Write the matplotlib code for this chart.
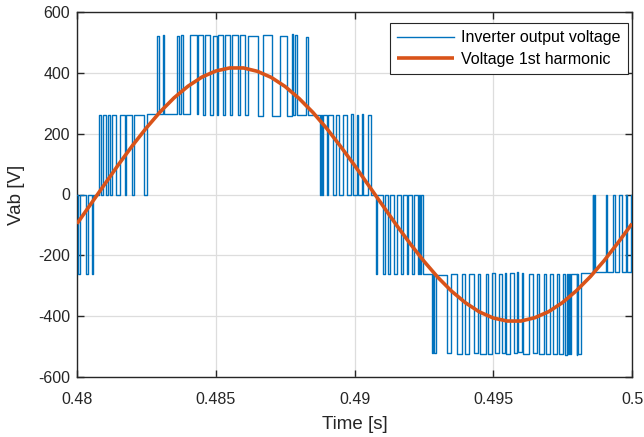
import matplotlib
matplotlib.use("Agg")
import matplotlib.pyplot as plt

# ---- Data ----
# Inverter output voltage: switching instants [s] and level after each switch [V]
pwm_t = [
    0.480000, 0.480025, 0.480108, 0.480324, 0.480386, 0.480526, 0.480587,
    0.480793, 0.480865, 0.480937, 0.481034, 0.481106, 0.481178, 0.481250,
    0.481395, 0.481550, 0.481730, 0.481766, 0.481971, 0.482065, 0.482425,
    0.482512,
    0.482894, 0.482944, 0.483088, 0.483135, 0.483614, 0.483665, 0.483759,
    0.483831, 0.484072, 0.484314, 0.484371, 0.484551, 0.484613, 0.484793,
    0.484912, 0.485034, 0.485092, 0.485272, 0.485333, 0.485514, 0.485575,
    0.485813, 0.485874, 0.486054, 0.486151, 0.486533, 0.486714, 0.487016,
    0.487315, 0.487557, 0.487737, 0.487784, 0.487838, 0.487917, 0.488252,
    0.488335,
    0.488757, 0.488793, 0.488818, 0.488854, 0.488998, 0.489056, 0.489236,
    0.489333, 0.489452, 0.489586, 0.489719, 0.489856, 0.489957, 0.490079,
    0.490126, 0.490260, 0.490317, 0.490497, 0.490584,
    0.490775, 0.490822, 0.491016, 0.491099, 0.491218, 0.491279, 0.491423,
    0.491521, 0.491665, 0.491759, 0.491881, 0.491939, 0.492061, 0.492144,
    0.492299, 0.492342, 0.492378, 0.492414, 0.492458,
    0.492782, 0.492829, 0.492876, 0.492926, 0.493323, 0.493477, 0.493683,
    0.493884, 0.493964, 0.494126, 0.494317, 0.494461, 0.494523, 0.494728,
    0.494811, 0.494944, 0.495063, 0.495207, 0.495326, 0.495423, 0.495477,
    0.495604, 0.495748, 0.495845, 0.495903, 0.496025, 0.496083, 0.496299,
    0.496422, 0.496587, 0.496660, 0.496829, 0.496883, 0.497045, 0.497164,
    0.497308, 0.497369, 0.497525, 0.497586, 0.497647, 0.497705, 0.497737,
    0.497759, 0.497784, 0.498007, 0.498036, 0.498072, 0.498151,
    0.498584, 0.498609, 0.498634, 0.498667, 0.499063, 0.499110, 0.499305,
    0.499387, 0.499543, 0.499629, 0.499784, 0.499831, 0.499953, 0.499989,
    0.500000,
]
pwm_v = [
    0, -260, 0, -260, 0, -260, 0,
    260, 0, 260, 0, 260, 0, 260,
    0, 260, 0, 260, 0, 260, 0,
    265,
    522, 265, 524, 266, 520, 266, 526,
    266, 525, 264, 524, 263, 526, 262,
    522, 262, 525, 263, 523, 262, 526,
    261, 524, 260, 522, 258, 524, 257,
    520, 258, 528, 260, 526, 262, 518,
    260,
    0, 260, 0, 260, 0, 260, 0,
    262, 0, 262, 0, 264, 0, 262,
    0, 264, 0, 262, 0,
    -260, 0, -262, 0, -260, 0, -262,
    0, -260, 0, -262, 0, -260, 0,
    -262, 0, -262, 0, -262,
    -520, -262, -522, -264, -522, -262, -525,
    -263, -526, -262, -520, -260, -524, -262,
    -526, -258, -520, -260, -522, -259, -524,
    -258, -520, -256, -518, -258, -524, -260,
    -522, -262, -525, -260, -523, -262, -526,
    -263, -524, -262, -528, -262, -525, -262,
    -525, -260, -527, -262, -526, -258,
    0, -256, 0, -255, 0, -254, 0,
    -254, 0, -254, 0, -254, 0, -254,
    -254,
]

# Voltage 1st harmonic, read every 0.5 ms
h1_t = [0.4800 + 0.0005 * i for i in range(41)]
h1_v = [-96, -31, 34, 99, 161, 219, 272, 318, 356, 386, 406, 416, 416, 405,
        385, 355, 316, 270, 217, 158, 96, 31, -34, -99, -161, -219, -272,
        -318, -356, -386, -406, -416, -416, -405, -385, -355, -316, -270,
        -217, -158, -96]

xticks = [0.48, 0.485, 0.49, 0.495, 0.5]
xticklabels = ["0.48", "0.485", "0.49", "0.495", "0.5"]
yticks = [-600, -400, -200, 0, 200, 400, 600]

series_names = ["Inverter output voltage", "Voltage 1st harmonic"]

# ---- Plot ----
plt.rcParams["font.family"] = ["Liberation Sans", "DejaVu Sans"]
plt.rcParams["axes.unicode_minus"] = False

fig = plt.figure(figsize=(6.44, 4.37), dpi=100)
ax = fig.add_axes([77 / 644, 1 - 377 / 437, 555 / 644, 365 / 437])

ax.plot(pwm_t, pwm_v, drawstyle="steps-post", color="#0072BD", lw=1.0,
        label=series_names[0], zorder=3)
ax.plot(h1_t, h1_v, color="#D95319", lw=2.6, label=series_names[1],
        zorder=4, solid_capstyle="butt")

ax.set_xlim(0.48, 0.5)
ax.set_ylim(-600, 600)
ax.set_xticks(xticks)
ax.set_xticklabels(xticklabels)
ax.set_yticks(yticks)

ax.grid(True, color="#dddddd", lw=0.9)
ax.set_axisbelow(True)

dark = "#262626"
for s in ax.spines.values():
    s.set_color(dark)
    s.set_linewidth(1.0)
ax.tick_params(direction="in", top=True, right=True, length=5, width=1.0,
               colors=dark, labelsize=11.5)
ax.tick_params(axis="x", pad=11)
ax.tick_params(axis="y", pad=5)

ax.set_xlabel("Time [s]", fontsize=13.5, color=dark, labelpad=6)
ax.set_ylabel("Vab [V]", fontsize=13.5, color=dark, labelpad=9)

leg = ax.legend(loc="upper right", bbox_to_anchor=(0.993, 0.970),
                fontsize=11.5, frameon=True, fancybox=False, framealpha=1,
                edgecolor=dark, borderaxespad=0, handlelength=3.6,
                handletextpad=0.45, borderpad=0.45, labelspacing=0.4)
leg.get_frame().set_linewidth(0.8)

fig.savefig("out.png", dpi=100)
